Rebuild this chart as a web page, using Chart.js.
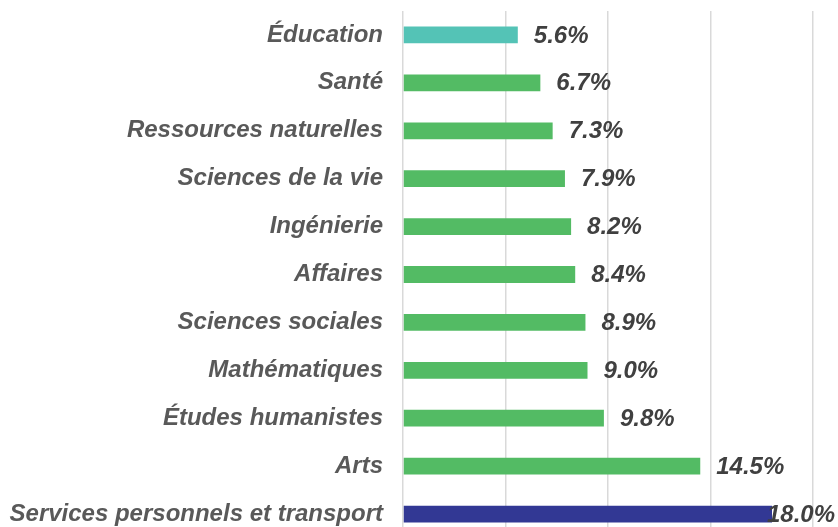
<!DOCTYPE html>
<html lang="fr">
<head>
<meta charset="utf-8">
<script src="https://cdn.jsdelivr.net/npm/chart.js@4/dist/chart.umd.min.js"></script>
<style>
    html, body { margin: 0; padding: 0; background: #fff; overflow: hidden; }
    #chart { display: block; }
</style>
</head>
<body>
<canvas id="chart" width="838" height="538"></canvas>
<script>
// Data
const categories = [
    'Éducation', 'Santé', 'Ressources naturelles', 'Sciences de la vie',
    'Ingénierie', 'Affaires', 'Sciences sociales', 'Mathématiques',
    'Études humanistes', 'Arts', 'Services personnels et transport'
];
const values = [5.6, 6.7, 7.3, 7.9, 8.2, 8.4, 8.9, 9.0, 9.8, 14.5, 18.0];
const barColors = [
    '#54c3b6', '#53bb64', '#53bb64', '#53bb64', '#53bb64', '#53bb64',
    '#53bb64', '#53bb64', '#53bb64', '#53bb64', '#323894'
];
const xTicks = [0, 5, 10, 15, 20];

// Value labels at bar ends, kept inside the canvas
const valueLabels = {
    id: 'valueLabels',
    afterDatasetsDraw(chart) {
        const ctx = chart.ctx;
        const meta = chart.getDatasetMeta(0);
        ctx.save();
        ctx.font = 'italic bold 24px "Liberation Sans", Arial, sans-serif';
        ctx.fillStyle = '#404040';
        ctx.textBaseline = 'middle';
        ctx.textAlign = 'left';
        meta.data.forEach((bar, i) => {
            const text = values[i].toFixed(1) + '%';
            const w = ctx.measureText(text).width;
            let x = bar.x + 16;
            if (x + w > chart.width - 3) x = chart.width - 3 - w;
            ctx.fillText(text, x, bar.y + 1);
        });
        ctx.restore();
    }
};

new Chart(document.getElementById('chart'), {
    type: 'bar',
    data: {
        labels: categories,
        datasets: [{
            data: values,
            backgroundColor: barColors,
            borderWidth: 0,
            categoryPercentage: 0.7,
            barPercentage: 0.5
        }]
    },
    options: {
        indexAxis: 'y',
        responsive: false,
        animation: false,
        layout: { padding: { top: 11, right: 25, bottom: 0, left: 0 } },
        plugins: {
            legend: { display: false },
            tooltip: { enabled: false }
        },
        scales: {
            x: {
                min: 0,
                max: 20,
                afterBuildTicks: axis => { axis.ticks = xTicks.map(v => ({ value: v })); },
                ticks: { display: false },
                grid: { color: '#d9d9d9', lineWidth: 1.5, drawTicks: false },
                border: { display: false }
            },
            y: {
                afterFit: scale => {
                    scale.width = 403;
                    scale.paddingTop = 0;
                    scale.paddingBottom = 0;
                },
                grid: { display: false, drawTicks: false },
                border: { display: false },
                ticks: {
                    padding: 20,
                    color: '#595959',
                    font: { family: '"Liberation Sans", Arial, sans-serif', size: 24, style: 'italic', weight: 'bold' }
                }
            }
        }
    },
    plugins: [valueLabels]
});
</script>
</body>
</html>
